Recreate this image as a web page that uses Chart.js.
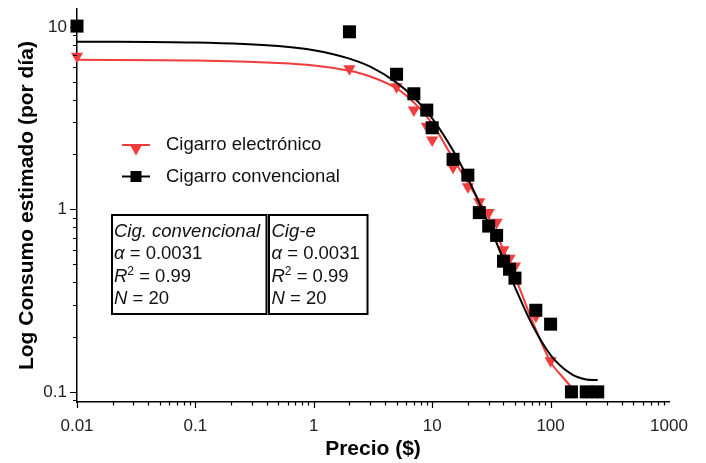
<!DOCTYPE html>
<html lang="es">
<head>
    <meta charset="UTF-8">
    <title>Consumo estimado vs precio</title>
    <script src="https://cdn.jsdelivr.net/npm/chart.js"></script>
    <style>
        body { margin: 0; background: #fff; }
        #wrap { width: 706px; height: 463px; }
    </style>
</head>
<body>
    <div id="wrap">
        <canvas id="demandChart" width="706" height="463"></canvas>
    </div>

    <script>
        // datos
        var precioConv = [0.01, 2, 5, 7, 9, 10, 15, 20, 25, 30, 35, 40, 45, 50, 75, 100, 150, 200, 250];
        var consumoConv = [10.1, 9.4, 5.5, 4.3, 3.5, 2.8, 1.88, 1.54, 0.96, 0.81, 0.72, 0.52, 0.47, 0.42, 0.28, 0.235, 0.1, 0.1, 0.1];

        var precioElec = [0.01, 2, 5, 7, 9, 10, 15, 20, 25, 30, 35, 40, 45, 50, 75, 100, 150, 200, 250];
        var consumoElec = [6.9, 5.9, 4.7, 3.5, 2.85, 2.4, 1.7, 1.33, 1.1, 0.96, 0.85, 0.6, 0.54, 0.49, 0.26, 0.148, 0.1, 0.1, 0.1];

        // curvas ajustadas (puntos leidos sobre las lineas)
        var ajusteConvX = [0.01, 0.1, 0.5, 1, 2, 3, 5, 7, 10, 15, 20, 30, 40, 50, 70, 100, 150, 200, 250];
        var ajusteConvY = [8.3, 8.2, 7.85, 7.45, 6.7, 6.05, 4.95, 4.1, 3.15, 2.1, 1.48, 0.83, 0.53, 0.375, 0.233, 0.159, 0.125, 0.117, 0.116];

        var ajusteElecX = [0.01, 0.1, 0.5, 1, 2, 3, 5, 7, 10, 15, 20, 30, 40, 50, 70, 100, 130, 160];
        var ajusteElecY = [6.6, 6.55, 6.35, 6.15, 5.75, 5.35, 4.6, 3.85, 2.95, 1.9, 1.4, 0.9, 0.6, 0.43, 0.245, 0.146, 0.118, 0.101];

        var ticksX = [0.01, 0.1, 1, 10, 100, 1000];
        var ticksY = [0.1, 1, 10];

        var ROJO = '#f03c3c';
        var FONT = "'Liberation Sans', Arial, sans-serif";

        function pares(xs, ys) {
            return xs.map(function (x, i) { return { x: x, y: ys[i] }; });
        }

        function tri(ctx, x, y, r) {
            ctx.beginPath();
            ctx.moveTo(x, y + r);
            ctx.lineTo(x - r * 0.866, y - r / 2);
            ctx.lineTo(x + r * 0.866, y - r / 2);
            ctx.closePath();
            ctx.fill();
        }

        // texto con partes en cursiva
        function partes(ctx, x, y, trozos) {
            trozos.forEach(function (t) {
                ctx.font = (t.it ? 'italic ' : '') + (t.sup ? '12px ' : '18.5px ') + FONT;
                ctx.fillText(t.s, x, t.sup ? y - 7 : y);
                x += ctx.measureText(t.s).width;
            });
        }

        var decor = {
            id: 'decor',
            afterDraw: function (chart) {
                var ctx = chart.ctx;
                var sx = chart.scales.x, sy = chart.scales.y;
                ctx.save();
                ctx.strokeStyle = '#000';
                ctx.lineWidth = 1.2;
                ctx.beginPath();
                for (var e = -2; e <= 2; e++) {
                    for (var m = 1; m <= 9; m++) {
                        var v = m * Math.pow(10, e);
                        if (v > 1000.001) continue;
                        var px = Math.round(sx.getPixelForValue(v)) + 0.5;
                        var len = m === 1 ? 6 : 3.5;
                        ctx.moveTo(px, sx.top); ctx.lineTo(px, sx.top + len);
                    }
                }
                for (var e2 = -2; e2 <= 1; e2++) {
                    for (var m2 = 1; m2 <= 9; m2++) {
                        var v2 = m2 * Math.pow(10, e2);
                        if (v2 < sy.min || v2 > sy.max) continue;
                        var py = Math.round(sy.getPixelForValue(v2)) + 0.5;
                        var len2 = m2 === 1 ? 7 : 4;
                        ctx.moveTo(sy.right, py); ctx.lineTo(sy.right - len2, py);
                    }
                }
                ctx.stroke();

                // leyenda
                ctx.lineWidth = 2;
                ctx.strokeStyle = ROJO;
                ctx.fillStyle = ROJO;
                ctx.beginPath(); ctx.moveTo(122, 145); ctx.lineTo(150, 145); ctx.stroke();
                tri(ctx, 136, 148.5, 7);
                ctx.strokeStyle = '#000';
                ctx.fillStyle = '#000';
                ctx.beginPath(); ctx.moveTo(122, 176.5); ctx.lineTo(150, 176.5); ctx.stroke();
                ctx.fillRect(130.5, 171, 11, 11);

                ctx.fillStyle = '#111';
                ctx.textBaseline = 'middle';
                ctx.font = '18.5px ' + FONT;
                ctx.fillText('Cigarro electrónico', 166, 145);
                ctx.fillText('Cigarro convencional', 166, 177);

                // cuadro de estadisticos
                ctx.lineWidth = 2;
                ctx.strokeRect(112, 215, 154.5, 99);
                ctx.strokeRect(269, 215, 98.5, 99);
                ctx.textBaseline = 'alphabetic';
                ctx.fillStyle = '#111';
                [114, 271.5].forEach(function (x0, k) {
                    partes(ctx, x0, 237, [{ s: k === 0 ? 'Cig. convencional' : 'Cig-e', it: true }]);
                    partes(ctx, x0, 259, [{ s: 'α', it: true }, { s: ' = 0.0031' }]);
                    partes(ctx, x0, 282, [{ s: 'R', it: true }, { s: '2', sup: true }, { s: ' = 0.99' }]);
                    partes(ctx, x0, 304, [{ s: 'N', it: true }, { s: ' = 20' }]);
                });
                ctx.restore();
            }
        };

        var ctx = document.getElementById('demandChart').getContext('2d');
        var chart = new Chart(ctx, {
            type: 'scatter',
            data: {
                datasets: [
                    {
                        label: 'Cigarro convencional',
                        data: pares(precioConv, consumoConv),
                        pointStyle: 'rect',
                        pointRadius: 9.2,
                        pointBackgroundColor: '#000',
                        pointBorderWidth: 0,
                        clip: false,
                        order: 0
                    },
                    {
                        label: 'Ajuste convencional',
                        data: pares(ajusteConvX, ajusteConvY),
                        showLine: true,
                        pointRadius: 0,
                        borderColor: '#000',
                        borderWidth: 2,
                        cubicInterpolationMode: 'monotone',
                        clip: false,
                        order: 1
                    },
                    {
                        label: 'Cigarro electrónico',
                        data: pares(precioElec, consumoElec),
                        pointStyle: 'triangle',
                        rotation: 180,
                        pointRadius: 7,
                        pointBackgroundColor: ROJO,
                        pointBorderWidth: 0,
                        clip: false,
                        order: 2
                    },
                    {
                        label: 'Ajuste electrónico',
                        data: pares(ajusteElecX, ajusteElecY),
                        showLine: true,
                        pointRadius: 0,
                        borderColor: ROJO,
                        borderWidth: 2,
                        cubicInterpolationMode: 'monotone',
                        clip: false,
                        order: 3
                    }
                ]
            },
            options: {
                responsive: false,
                animation: false,
                layout: { padding: { left: 0, top: 7, right: 37, bottom: 0 } },
                plugins: {
                    legend: { display: false },
                    tooltip: { enabled: false }
                },
                scales: {
                    x: {
                        type: 'logarithmic',
                        min: 0.01,
                        max: 1000,
                        afterBuildTicks: function (s) { s.ticks = ticksX.map(function (v) { return { value: v }; }); },
                        afterFit: function (s) { s.height = 61; s.paddingLeft = 0; s.paddingRight = 0; },
                        grid: { display: false, drawTicks: false },
                        border: { display: true, color: '#000', width: 1.5 },
                        ticks: {
                            padding: 14,
                            color: '#222',
                            font: { family: FONT, size: 17 },
                            maxRotation: 0,
                            autoSkip: false,
                            callback: function (v) { return String(v); }
                        },
                        title: {
                            display: true,
                            text: 'Precio ($)',
                            color: '#000',
                            font: { family: FONT, size: 21, weight: 'bold' },
                            padding: { top: 0, bottom: 1 }
                        }
                    },
                    y: {
                        type: 'logarithmic',
                        min: 0.088,
                        max: 12.5,
                        afterBuildTicks: function (s) { s.ticks = ticksY.map(function (v) { return { value: v }; }); },
                        afterFit: function (s) { s.width = 77; s.paddingTop = 0; s.paddingBottom = 0; },
                        grid: { display: false, drawTicks: false },
                        border: { display: true, color: '#000', width: 1.5 },
                        ticks: {
                            padding: 10,
                            color: '#222',
                            font: { family: FONT, size: 17 },
                            autoSkip: false,
                            callback: function (v) { return String(v); }
                        },
                        title: {
                            display: true,
                            text: 'Log Consumo estimado (por día)',
                            color: '#000',
                            font: { family: FONT, size: 21, weight: 'bold' },
                            padding: { top: 15, bottom: 0 }
                        }
                    }
                }
            },
            plugins: [decor]
        });
    </script>
</body>
</html>
